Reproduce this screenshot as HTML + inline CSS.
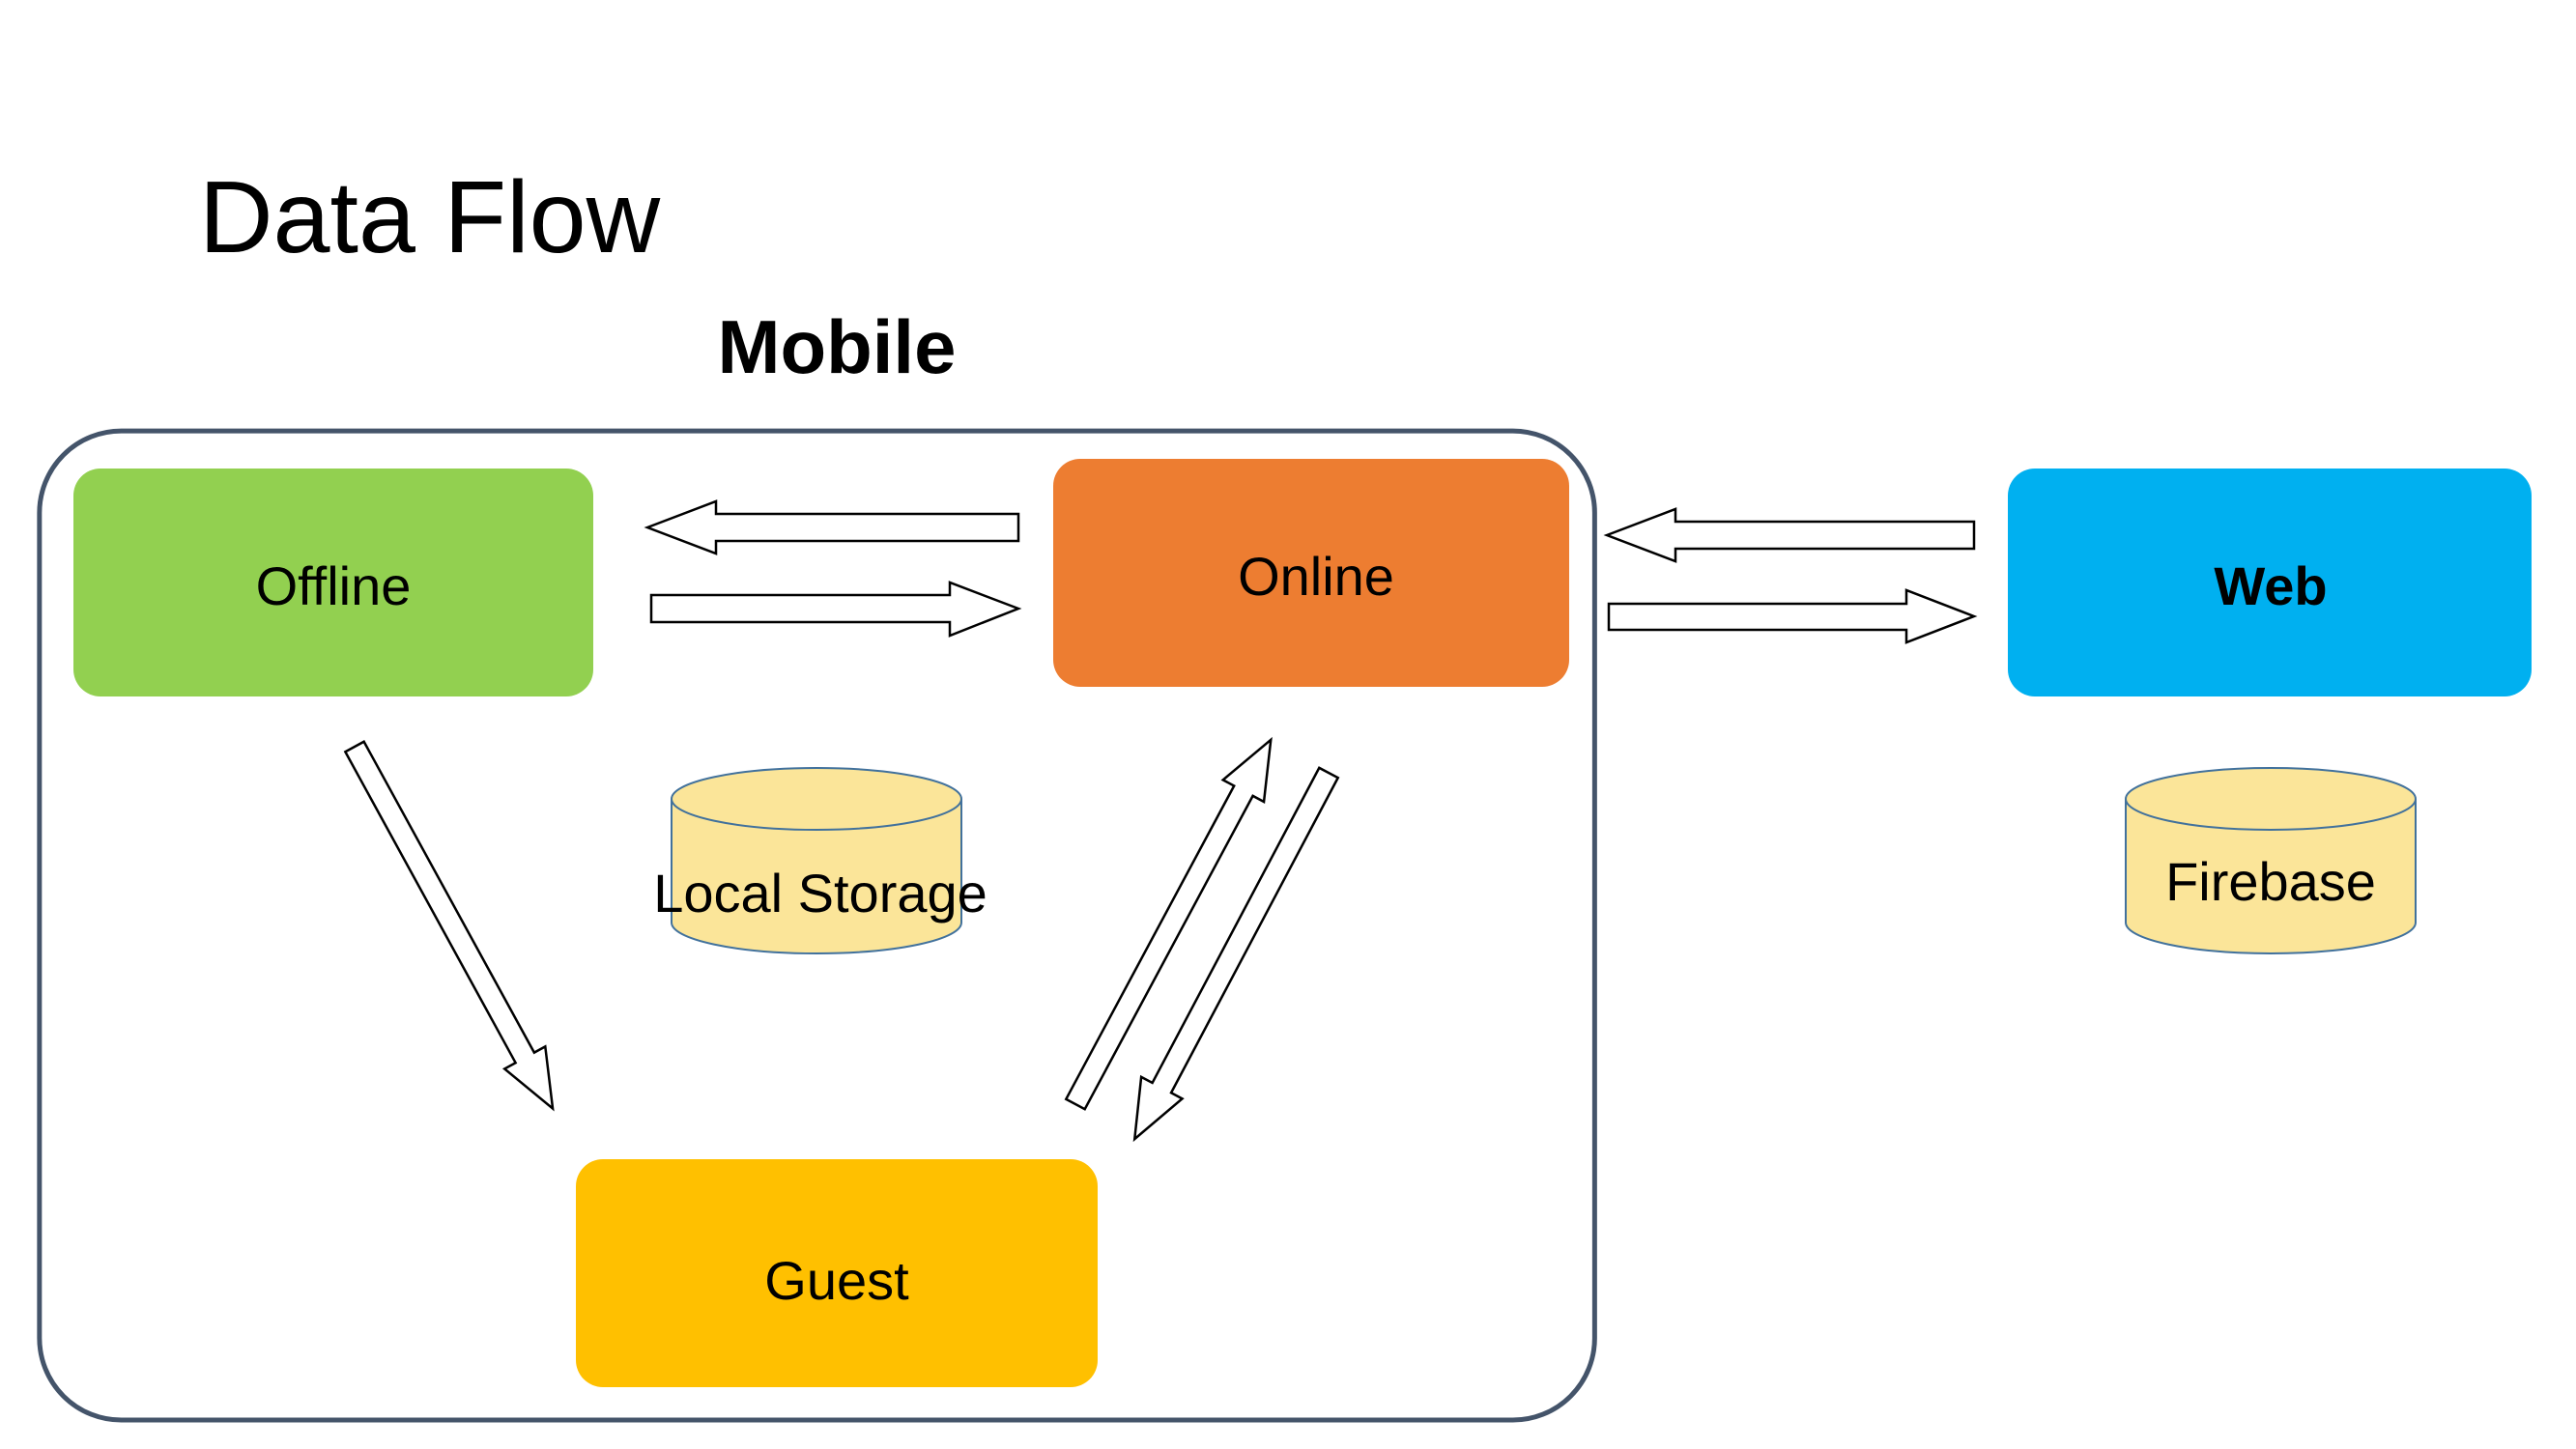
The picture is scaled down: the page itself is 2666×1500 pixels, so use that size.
<!DOCTYPE html>
<html><head><meta charset="utf-8"><style>
html,body{margin:0;padding:0;background:#fff;}
body{width:2666px;height:1500px;overflow:hidden;position:relative;}
</style></head><body>
<svg width="2666" height="1500" viewBox="0 0 2666 1500" xmlns="http://www.w3.org/2000/svg" style="position:absolute;left:0;top:0">
<text x="206" y="261" font-family="Liberation Sans, sans-serif" font-size="106" fill="#000">Data Flow</text>
<text x="866" y="386" text-anchor="middle" font-family="Liberation Sans, sans-serif" font-weight="bold" font-size="78" fill="#000">Mobile</text>
<rect x="41" y="447" width="1616" height="1026" rx="85" ry="85" fill="#fff" stroke="#44546A" stroke-width="5" transform="scale(0.996,0.998)"/>
<rect x="76" y="485" width="538" height="236" rx="28" fill="#92D050"/>
<rect x="1090" y="475" width="534" height="236" rx="28" fill="#ED7D31"/>
<rect x="596" y="1200" width="540" height="236" rx="28" fill="#FFC000"/>
<rect x="2078" y="485" width="542" height="236" rx="28" fill="#00B0F0"/>
<g font-family="Liberation Sans, sans-serif" font-size="56" fill="#000" text-anchor="middle">
<text x="345" y="626">Offline</text>
<text x="1362" y="616">Online</text>
<text x="866" y="1345">Guest</text>
<text x="2350" y="626" font-weight="bold">Web</text>
</g>
<g fill="#FBE599" stroke="#41719C" stroke-width="2">
<path d="M695 827 L695 955 A150 32 0 0 0 995 955 L995 827"/>
<ellipse cx="845" cy="827" rx="150" ry="32"/>
<path d="M2200 827 L2200 955 A150 32 0 0 0 2500 955 L2500 827"/>
<ellipse cx="2350" cy="827" rx="150" ry="32"/>
</g>
<g font-family="Liberation Sans, sans-serif" font-size="56" fill="#000" text-anchor="middle">
<text x="849" y="944">Local Storage</text>
<text x="2350" y="932">Firebase</text>
</g>
<g fill="#fff" stroke="#000" stroke-width="2.5">
<polygon points="670,546 741,519 741,532 1054,532 1054,560 741,560 741,573"/>
<polygon points="1054,630 983,603 983,616 674,616 674,644 983,644 983,658"/>
<polygon points="1663,554 1734,527 1734,540 2043,540 2043,568 1734,568 1734,581"/>
<polygon points="2043,638 1973,611 1973,625 1665,625 1665,652 1973,652 1973,665"/>
<g transform="translate(367,773) rotate(61.3)"><polygon points="0,-11 367,-11 367,-24 427,0 367,24 367,11 0,11"/></g>
<g transform="translate(1113,1143) rotate(-61.8)"><polygon points="0,-11 368,-11 368,-24 428,0 368,24 368,11 0,11"/></g>
<g transform="translate(1375,800) rotate(117.9)"><polygon points="0,-11 369,-11 369,-24 429,0 369,24 369,11 0,11"/></g>
</g>
</svg>
</body></html>
